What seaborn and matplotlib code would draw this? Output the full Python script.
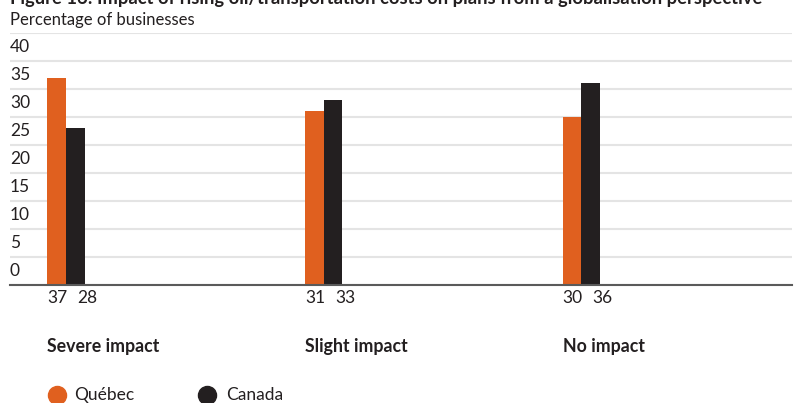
import matplotlib
matplotlib.use("Agg")
import matplotlib.pyplot as plt
from matplotlib.lines import Line2D
import matplotlib.transforms as mtransforms
from matplotlib import font_manager
import seaborn as sns
import pandas as pd

categories = ["Severe impact", "Slight impact", "No impact"]
series_names = ["Québec", "Canada"]
quebec = [37, 31, 30]
canada = [28, 33, 36]
y_ticks = [0, 5, 10, 15, 20, 25, 30, 35, 40]
colors = ["#E0601F", "#231F20"]

title = "Figure 16: Impact of rising oil/transportation costs on plans from a globalisation perspective"
subtitle = "Percentage of businesses"

df = pd.DataFrame({
    "cat": categories * 2,
    "region": [series_names[0]] * 3 + [series_names[1]] * 3,
    "value": quebec + canada,
})

sns.set_theme(style="white")
names = {f.name for f in font_manager.fontManager.ttflist}
fams = [f for f in ["Lato", "Liberation Sans"] if f in names]
plt.rcParams["font.family"] = fams + ["DejaVu Sans"]
fs = 12.5

W, H = 797, 403
fig = plt.figure(figsize=(W / 100, H / 100), dpi=100)
ax = fig.add_axes([10 / W, (H - 285) / H, (792 - 10) / W, (285 - 33) / H])

sns.barplot(data=df, x="cat", y="value", hue="region", palette=colors,
            width=0.144, gap=0, saturation=1, ax=ax, legend=False,
            errorbar=None, linewidth=0)

ax.set_xlim(-0.2175, 2.819)
ax.set_ylim(0, 45)
ax.set_yticks(list(range(0, 50, 5)))
ax.set_yticklabels([])
ax.set_xticks([])
ax.set_xlabel("")
ax.set_ylabel("")
ax.tick_params(length=0)
ax.yaxis.grid(True, color="#E4E4E4", linewidth=1.5)
ax.set_axisbelow(True)
for s in ["top", "right", "left"]:
    ax.spines[s].set_visible(False)
ax.spines["bottom"].set_color("#5A5A5A")
ax.spines["bottom"].set_linewidth(1.5)

# y labels placed in the band above each gridline
trans = mtransforms.blended_transform_factory(ax.transAxes, ax.transData)
for v in y_ticks:
    ax.text(0, v + 2.5, str(v), transform=trans, ha="left", va="center",
            fontsize=fs, color="#231F20")

# value labels and category labels
px = 1 / 257.5
for i, cat in enumerate(categories):
    left = i - 0.072
    ax.text(left, -2.4, str(quebec[i]), ha="left", va="center",
            fontsize=fs, color="#231F20", clip_on=False)
    ax.text(left + 30 * px, -2.4, str(canada[i]), ha="left", va="center",
            fontsize=fs, color="#231F20", clip_on=False)
    ax.text(left, -10.9, cat, ha="left", va="center", fontsize=fs + 0.3,
            fontweight="bold", color="#231F20", clip_on=False)

# title and subtitle
fig.text(10 / W, (H - 4) / H, title, ha="left", va="baseline",
         fontsize=13.2, fontweight="bold", color="#231F20")
fig.text(10 / W, (H - 25) / H, subtitle, ha="left", va="baseline",
         fontsize=12, color="#231F20")

# legend
for (x_m, x_t), name, c in zip([(57, 74), (207, 226)], series_names, colors):
    fig.add_artist(Line2D([x_m / W], [(H - 395) / H], marker="o", markersize=13,
                          color=c, linestyle="", transform=fig.transFigure))
    fig.text(x_t / W, (H - 395) / H, name, ha="left", va="center",
             fontsize=fs, color="#231F20")

fig.savefig("out.png", dpi=100)
